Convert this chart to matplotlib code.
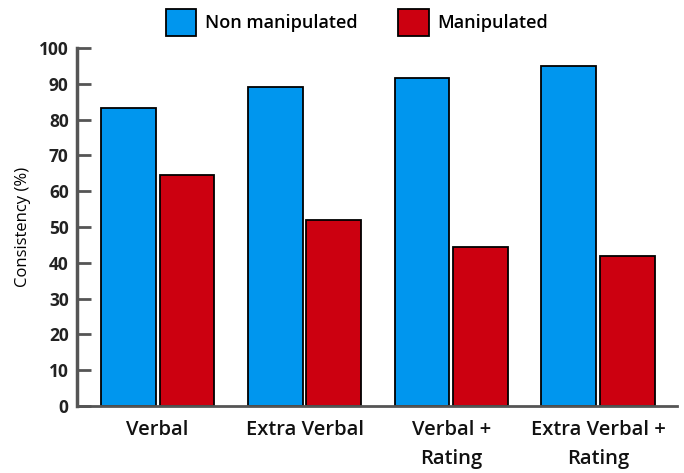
import numpy as np
import matplotlib
matplotlib.use("Agg")
import matplotlib.pyplot as plt

plt.rcParams['font.family'] = ['Open Sans', 'DejaVu Sans']

categories = ["Verbal", "Extra Verbal", "Verbal +\nRating", "Extra Verbal +\nRating"]
non_manipulated = [83.2, 89.0, 91.6, 95.0]
manipulated = [64.5, 52.0, 44.4, 42.0]

BLUE = "#0096ee"
RED = "#cc0010"
AXIS = "#555555"

fig = plt.figure(figsize=(6.84, 4.73), dpi=100)
ax = fig.add_axes([0.1126, 0.1416, 0.877, 0.757])

x = np.arange(len(categories))
w = 0.374
gap = 0.027
ax.bar(x - w / 2 - gap / 2, non_manipulated, w, color=BLUE, edgecolor="black",
       linewidth=1.3, label="Non manipulated")
ax.bar(x + w / 2 + gap / 2, manipulated, w, color=RED, edgecolor="black",
       linewidth=1.3, label="Manipulated")

ax.set_xlim(-0.548, 3.534)
ax.set_ylim(0, 100)
ax.set_yticks(np.arange(0, 101, 10))
ax.set_xticks(x)
ax.set_xticklabels(categories, fontsize=14.5, linespacing=1.6,
                   fontweight="semibold", color="#111111")
ax.tick_params(axis="x", length=0, pad=10)
ax.tick_params(axis="y", direction="in", length=10, width=2, color=AXIS,
               labelsize=12.5, labelcolor="#222222", pad=6)
for lbl in ax.get_yticklabels():
    lbl.set_fontweight("bold")

ax.spines["top"].set_visible(False)
ax.spines["right"].set_visible(False)
ax.spines["left"].set_color(AXIS)
ax.spines["bottom"].set_color(AXIS)
ax.spines["left"].set_linewidth(2.5)
ax.spines["bottom"].set_linewidth(2)

ax.set_ylabel("Consistency (%)", fontsize=12, labelpad=6, fontweight="medium")

leg = fig.legend(loc="center", bbox_to_anchor=(0.522, 0.953), ncol=2, frameon=False,
                 fontsize=13, handlelength=1.7, handleheight=1.9, columnspacing=2.2,
                 handletextpad=0.5, prop={"size": 13, "weight": "semibold"})

fig.savefig("out.png", dpi=100)
